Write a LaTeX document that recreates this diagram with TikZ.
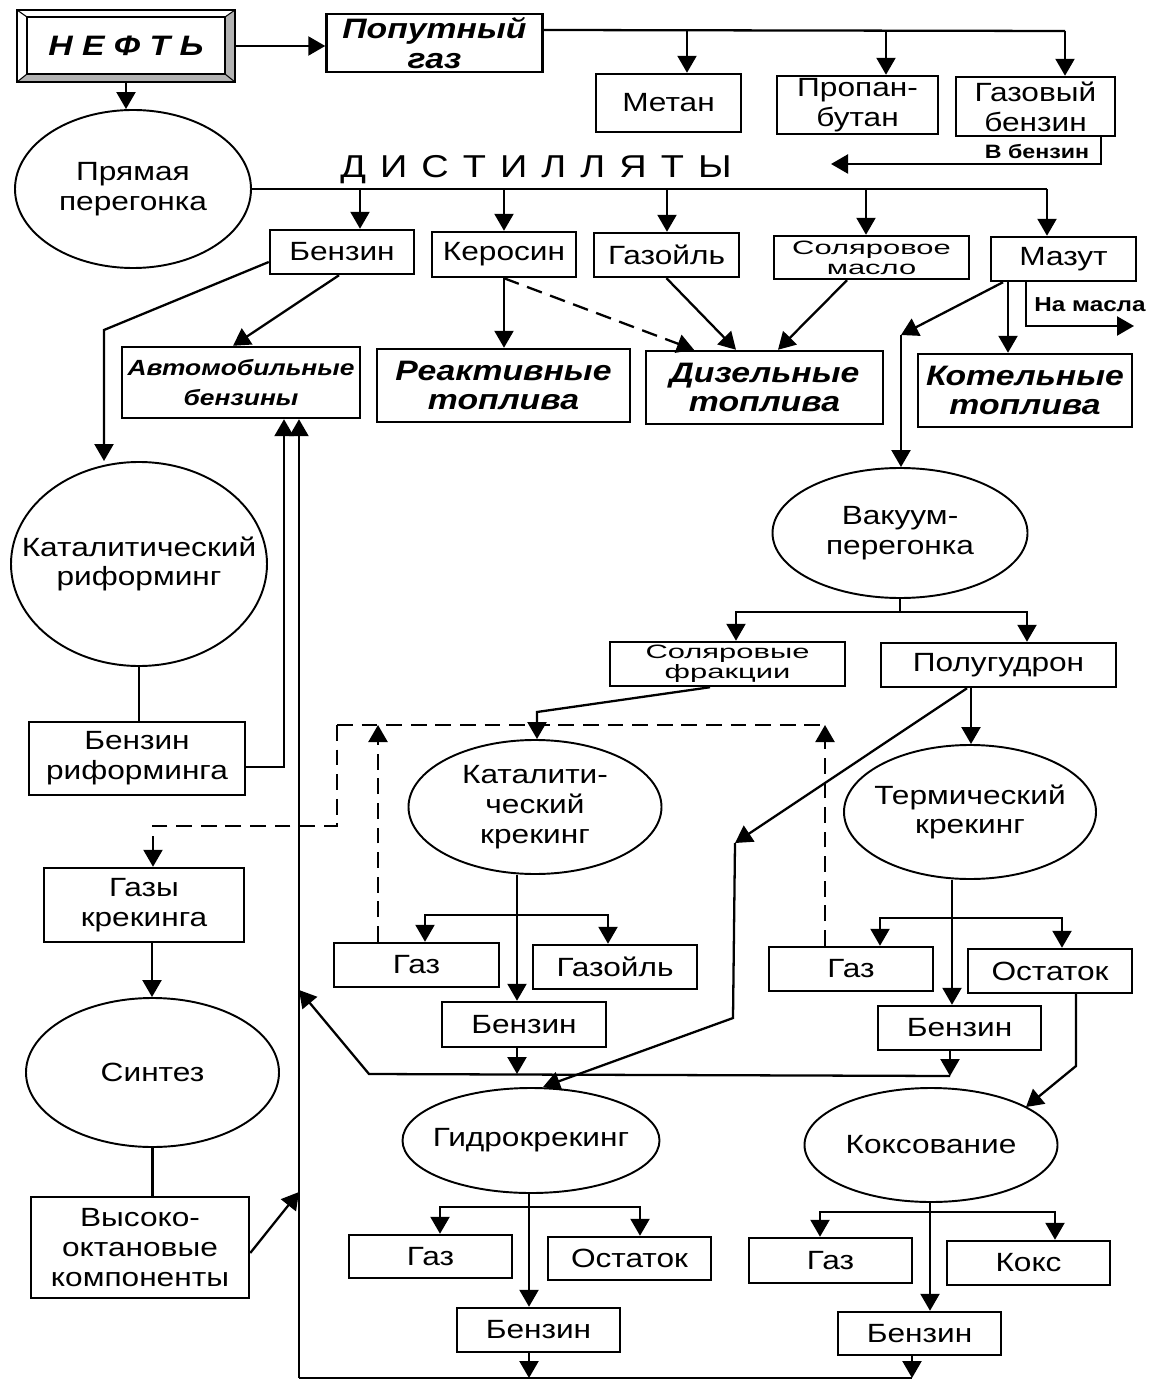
\documentclass[tikz,border=0pt]{standalone}
\usepackage{fontspec}
\setmainfont{Liberation Sans}[FakeStretch=1.2]
\newfontfamily\wf{Liberation Sans}[FakeStretch=1.6]
\usetikzlibrary{arrows.meta,shapes.geometric,calc}
\newcommand\lsp{\hspace{8pt}}
\tikzset{
  every node/.style={font=\fontsize{15}{17}\selectfont, align=center, inner sep=0pt},
  bx/.style 2 args={draw, line width=1.4pt, rectangle, minimum width=#1*0.2mm, minimum height=#2*0.2mm},
  el/.style 2 args={draw, line width=1.1pt, ellipse, minimum width=#1*0.2mm, minimum height=#2*0.2mm},
  prod/.style={font=\fontsize{16}{17}\selectfont\bfseries\itshape},
  wide/.style={font=\wf\fontsize{11}{11.5}\selectfont},
  small/.style={font=\fontsize{11}{12}\selectfont\bfseries},
  ln/.style={line width=1.3pt},
  tip/.style={-{Triangle[width=0.38cm,length=0.34cm]}},
  arr/.style={ln, tip},
  dsh/.style={ln, dash pattern=on 9pt off 5pt},
}
\begin{document}
\begin{tikzpicture}[x=0.2mm,y=-0.2mm]
\useasboundingbox (0,0) rectangle (1153,1382);
\fill[white] (0,0) rectangle (1153,1382);

% ---------- НЕФТЬ (bevelled frame)
\fill[gray!60] (235,10) -- (235,82) -- (225,74) -- (225,17) -- cycle;
\fill[gray!60] (17,82) -- (235,82) -- (225,74) -- (27,74) -- cycle;
\node[bx={218}{72}, prod] (neft) at (126,46) {Н Е Ф Т Ь};
\draw[line width=0.9pt] (27,17) rectangle (225,74);
\draw[line width=0.6pt] (17,10)--(27,17) (235,10)--(225,17) (17,82)--(27,74) (235,82)--(225,74);

% ---------- all nodes
\node[bx={216}{58}, prod] (pg) at (434.5,43) {Попутный\\газ};
\node[bx={145}{58}] (metan) at (668.5,103) {Метан};
\node[bx={161}{58}] (propan) at (857.5,105) {Пропан-\\бутан};
\node[bx={159}{59}] (gazben) at (1035.5,106.5) {Газовый\\бензин};
\node[small] (vbt) at (1037,152) {В бензин};
\node[el={236}{158}, label={center:Прямая\\перегонка}] (pr) at (133,189) {};
\node[font=\fontsize{18}{20}\selectfont] (dist) at (536,170) {Д\lsp И\lsp С\lsp Т\lsp И\lsp Л\lsp Л\lsp Я\lsp Т\lsp Ы};
\node[bx={144}{44}] (benz1) at (342,252) {Бензин};
\node[bx={144}{45}] (ker) at (504,254.5) {Керосин};
\node[bx={145}{44}] (gazoil1) at (666.5,255) {Газойль};
\node[bx={195}{43}, wide] (sol) at (871.5,257.5) {Соляровое\\масло};
\node[bx={145}{44}] (mazut) at (1063.5,259) {Мазут};
\node[bx={238}{71}, font=\fontsize{12.5}{17}\selectfont\bfseries\itshape] (avto) at (241,382.5) {Автомобильные\\бензины};
\node[bx={253}{73}, prod] (reakt) at (503.5,385.5) {Реактивные\\топлива};
\node[bx={237}{73}, prod] (dizel) at (764.5,387.5) {Дизельные\\топлива};
\node[bx={214}{73}, prod] (kotel) at (1025,390.5) {Котельные\\топлива};
\node[font=\fontsize{11.5}{12}\selectfont\bfseries] (nam) at (1090,305) {На масла};
\node[el={256}{204}, label={center:Каталитический\\риформинг}] (kr) at (139,564) {};
\node[bx={216}{73}] (bref) at (137,758.5) {Бензин\\риформинга};
\node[el={255}{130}, label={center:Вакуум-\\перегонка}] (vak) at (900,533) {};
\node[bx={235}{44}, wide] (solf) at (727.5,664) {Соляровые\\фракции};
\node[bx={235}{44}] (polu) at (998.5,665) {Полугудрон};
\node[el={253}{134}, label={center:Каталити-\\ческий\\крекинг}] (kk) at (535,807) {};
\node[bx={165}{44}] (gazk) at (416.5,965) {Газ};
\node[bx={164}{44}] (gazoilk) at (615,967) {Газойль};
\node[bx={164}{45}] (bk) at (524,1024.5) {Бензин};
\node[el={252}{134}, label={center:Термический\\крекинг}] (tk) at (970,812) {};
\node[bx={164}{44}] (gazt) at (851,969) {Газ};
\node[bx={164}{44}] (ost) at (1050,971) {Остаток};
\node[bx={163}{44}] (bt) at (959.5,1028) {Бензин};
\node[bx={200}{74}] (gk) at (144,905) {Газы\\крекинга};
\node[el={253}{149}, label={center:Синтез}] (sint) at (152.5,1072.5) {};
\node[bx={218}{101}] (vok) at (140,1247.5) {Высоко-\\октановые\\компоненты};
\node[el={257}{105}, label={center:Гидрокрекинг}] (hk) at (531,1140.5) {};
\node[bx={163}{43}] (hg) at (430.5,1256.5) {Газ};
\node[bx={163}{43}] (ho) at (629.5,1258.5) {Остаток};
\node[bx={163}{44}] (hb) at (538.5,1330) {Бензин};
\node[el={253}{114}, label={center:Коксование}] (kok) at (931,1145) {};
\node[bx={163}{45}] (kg) at (830.5,1260.5) {Газ};
\node[bx={163}{44}] (kx) at (1028.5,1263) {Кокс};
\node[bx={163}{43}] (kb) at (919.5,1333.5) {Бензин};

% ---------- gas branch connectors
\draw[arr] (neft.east) -- (neft.east -| pg.west);
\draw[ln] (pg.east |- 0,30) -- (1065,31);
\draw[arr] (687,30) -- (687,30 |- metan.north);
\draw[arr] (886,31) -- (886,31 |- propan.north);
\draw[arr] (1065,31) -- (1065,31 |- gazben.north);
\coordinate (vbtip) at (831,164);
\draw[arr] (gazben.south -| 1101,0) -- (1101,164) -- (vbtip);

% ---------- distillates
\draw[arr] (neft.south) -- (neft.south |- pr.north);
\draw[ln] (pr.east) -- (1047,189);
\draw[arr] (360,189) -- (360,189 |- benz1.north);
\draw[arr] (504,189) -- (504,189 |- ker.north);
\draw[arr] (667,189) -- (667,189 |- gazoil1.north);
\draw[arr] (866,189) -- (866,189 |- sol.north);
\draw[arr] (1047,189) -- (1047,189 |- mazut.north);

\draw[arr] (benz1.south -| 339,0) -- (avto.north -| 233,0);
\draw[arr] ($(benz1.west)+(0,10)$) -- (104,330) -- (104,330 |- kr.north);
\draw[arr] (ker.south) -- (ker.south |- reakt.north);
\draw[dsh, tip] (ker.south) -- (dizel.north -| 694,0);
\draw[arr] (gazoil1.south) -- (dizel.north -| 736,0);
\draw[arr] (sol.south -| 847,0) -- (dizel.north -| 778,0);
\draw[arr] (mazut.south -| 1008,0) -- (kotel.north -| 1008,0);
\coordinate (jm) at (901,335);
\draw[arr] (mazut.south -| 1003,0) -- (jm);
\draw[arr] (jm) -- (jm |- vak.north);
\draw[arr] (mazut.south -| 1026,0) -- (1026,326) -- (1134,326);

% ---------- reforming
\draw[ln] (kr.south) -- (kr.south |- bref.north);
\draw[arr] (bref.east |- 0,767) -- (284,767) -- (284,767 |- avto.south);
\coordinate (rb) at (299,1378);
\draw[arr] (rb) -- (rb |- avto.south);

% ---------- vacuum distillation
\coordinate (vj) at (900,612);
\draw[ln] (vak.south) -- (vj);
\draw[arr] (vj) -| (solf.north -| 736,0);
\draw[arr] (vj) -| (polu.north -| 1027,0);

% ---------- catalytic cracking
\draw[arr] (solf.south -| 710,0) -- (537,712) -- (537,712 |- kk.north);
\draw[arr] (kk.south -| 517,0) -- (517,0 |- bk.north);
\draw[arr] (517,915) -| (gazk.north -| 425,0);
\draw[arr] (517,915) -| (gazoilk.north -| 608,0);

% ---------- thermal cracking
\draw[arr] (polu.south -| 971,0) -- (971,0 |- tk.north);
\draw[arr] (tk.south -| 952,0) -- (952,0 |- bt.north);
\draw[arr] (952,918) -| (gazt.north -| 880,0);
\draw[arr] (952,918) -| (ost.north -| 1062,0);

% ---------- dashed gas returns
\coordinate (d1) at (337,725);
\coordinate (d2) at (825,725);
\draw[dsh] (d1) -- (d2);
\draw[dsh, tip] (gazk.north -| 378,0) -- (378,725);
\draw[dsh, tip] (gazt.north -| 825,0) -- (d2);
\draw[dsh, tip] (d1) -- (337,826) -- (153,826) -- (153,826 |- gk.north);

% ---------- synthesis
\draw[arr] (gk.south -| 152,0) -- (152,0 |- sint.north);
\draw[ln] (sint.south) -- (sint.south |- vok.north);
\draw[arr] (vok.east |- 0,1253) -- (rb |- 0,1192);

% ---------- middle collector
\coordinate (m0) at (369,1074);
\coordinate (m1) at (950,1076);
\draw[arr] (m1) -- (m0) -- (rb |- 0,990);
\draw[arr] (bk.south -| 517,0) -- (517,1074);
\draw[arr] (bt.south -| 950,0) -- (m1);

% ---------- hydrocracking
\coordinate (pj) at (735,843);
\draw[arr] (polu.south -| 967,0) -- (pj);
\draw[arr] (pj) -- (733,1018) -- (hk.north -| 543,0);
\draw[arr] (hk.south -| 529,0) -- (529,0 |- hb.north);
\draw[arr] (529,1207) -| (hg.north -| 440,0);
\draw[arr] (529,1207) -| (ho.north -| 640,0);
\draw[arr] (hb.south -| 529,0) -- (529,1378);

% ---------- coking
\draw[arr] (ost.south -| 1076,0) -- (1076,1066) -- (1026,1107);
\draw[arr] (kok.south -| 930,0) -- (930,0 |- kb.north);
\draw[arr] (930,1212) -| (kg.north -| 820,0);
\draw[arr] (930,1212) -| (kx.north -| 1055,0);
\draw[arr] (kb.south -| 912,0) -- (912,1378);

% ---------- bottom return line
\draw[ln] (rb) -- (912,1378);
\end{tikzpicture}
\end{document}
